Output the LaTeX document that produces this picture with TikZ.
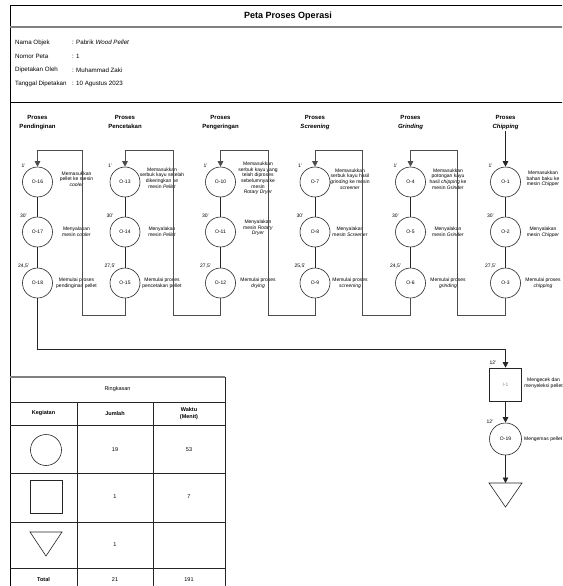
\documentclass[tikz,border=0pt]{standalone}
\usepackage{fontspec}
\setmainfont{Liberation Sans}
\usetikzlibrary{arrows.meta}
\newcommand\fsz[2]{\fontsize{#1}{#2}\selectfont}
\begin{document}
\begin{tikzpicture}[x=1pt,y=-1pt,
  frame/.style={line width=0.8pt,draw=black},
  sepline/.style={line width=1.2pt,draw=black!50},
  head/.style={align=center,anchor=north,font=\fsz{6}{9}\bfseries,inner sep=1pt},
  info/.style={anchor=west,font=\fsz{6.2}{7},inner sep=0pt},
  op/.style={circle,draw=black!85,line width=0.6pt,minimum size=30pt,inner sep=0pt,font=\fsz{5}{6}},
  desc/.style={align=center,font=\fsz{5}{5.6},inner sep=0pt},
  tm/.style={font=\fsz{5}{6},inner sep=0pt},
  flow/.style={draw=black!85,line width=0.7pt},
  arr/.style={flow,-{Triangle[length=5.5pt,width=5.5pt]}},
  looparr/.style={draw=black!70,line width=0.7pt,-{Triangle[length=5.5pt,width=5.5pt]}},
  cell/.style={font=\fsz{5.5}{6.5},align=center,inner sep=0pt},
  cellb/.style={font=\fsz{5.5}{6.5}\bfseries,align=center,inner sep=0pt},
  gridline/.style={draw=black!85,line width=0.7pt},
]
\useasboundingbox (0,0) rectangle (562,586);
\clip (0,0) rectangle (562,586);

% outer frame and separators
\draw[frame] (10,590) -- (10,5) -- (575,5);
\draw[sepline] (10,27) -- (575,27);
\draw[frame] (10,102) -- (575,102);

\node[font=\fsz{9}{10}\bfseries] (title) at (288,16) {Peta Proses Operasi};

% header information
\node[info] (k1) at (15,42.5) {Nama Objek};
\node[info] (v1) at (72,42.5) {: Pabrik \textit{Wood Pellet}};
\node[info] (k2) at (15,56.5) {Nomor Peta};
\node[info] (v2) at (72,56.5) {: 1};
\node[info] (k3) at (15,70) {Dipetakan Oleh};
\node[info] (v3) at (72,70) {: Muhammad Zaki};
\node[info] (k4) at (15,83.5) {Tanggal Dipetakan};
\node[info] (v4) at (72,83.5) {: 10 Agustus 2023};

% process headings
\node[head] (h1) at (37.5,114) {Proses\\Pendinginan};
\node[head] (h2) at (125,114) {Proses\\Pencetakan};
\node[head] (h3) at (220.5,114) {Proses\\Pengeringan};
\node[head] (h4) at (315,114) {Proses\\\textit{Screening}};
\node[head] (h5) at (410.5,114) {Proses\\\textit{Grinding}};
\node[head] (h6) at (505.5,114) {Proses\\\textit{Chipping}};

% column 1: pendinginan
\node[op] (o16) at (37.5,182) {O-16};
\node[op] (o17) at (37.5,232) {O-17};
\node[op] (o18) at (37.5,283) {O-18};
\node[tm] (t16) at (23.5,165.5) {1'};
\node[tm] (t17) at (23.5,215.5) {30'};
\node[tm] (t18) at (23.5,266.5) {24,5'};
\node[desc] (d16) at (76.5,179) {Memasukkan\\pellet ke mesin\\\textit{cooler}};
\node[desc] (d17) at (76.5,232) {Menyalakan\\mesin \textit{cooler}};
\node[desc] (d18) at (76.5,283) {Memulai proses\\pendinginan pellet};

% column 2: pencetakan
\node[op] (o13) at (125,182) {O-13};
\node[op] (o14) at (125,232) {O-14};
\node[op] (o15) at (125,283) {O-15};
\node[tm] (t13) at (110,165.5) {1'};
\node[tm] (t14) at (110,215.5) {30'};
\node[tm] (t15) at (110,266.5) {27,5'};
\node[desc] (d13) at (162,178) {Memasukkan\\serbuk kayu setelah\\dikeringkan ke\\mesin \textit{Pellet}};
\node[desc] (d14) at (162,232) {Menyalakan\\mesin \textit{Pellet}};
\node[desc] (d15) at (162,283) {Memulai proses\\pencetakan pellet};

% column 3: pengeringan
\node[op] (o10) at (220.5,182) {O-10};
\node[op] (o11) at (220.5,232) {O-11};
\node[op] (o12) at (220.5,283) {O-12};
\node[tm] (t10) at (205.5,165.5) {1'};
\node[tm] (t11) at (205.5,215.5) {30'};
\node[tm] (t12) at (205.5,266.5) {27,5'};
\node[desc] (d10) at (258,178.5) {Memasukkan\\serbuk kayu yang\\telah diproses\\sebelumnya ke\\mesin\\\textit{Rotary Dryer}};
\node[desc] (d11) at (258,228) {Menyalakan\\mesin \textit{Rotary}\\\textit{Dryer}};
\node[desc] (d12) at (258,283) {Memulai proses\\\textit{drying}};

% column 4: screening
\node[op] (o7) at (315,182) {O-7};
\node[op] (o8) at (315,232) {O-8};
\node[op] (o9) at (315,283) {O-9};
\node[tm] (t7) at (300,165.5) {1'};
\node[tm] (t8) at (300,215.5) {30'};
\node[tm] (t9) at (300,266.5) {25,5'};
\node[desc] (d7) at (350,179) {Memasukkan\\serbuk kayu hasil\\\textit{grinding} ke mesin\\\textit{screener}};
\node[desc] (d8) at (350,232) {Menyalakan\\mesin \textit{Screener}};
\node[desc] (d9) at (350,283) {Memulai proses\\\textit{screening}};

% column 5: grinding
\node[op] (o4) at (410.5,182) {O-4};
\node[op] (o5) at (410.5,232) {O-5};
\node[op] (o6) at (410.5,283) {O-6};
\node[tm] (t4) at (395.5,165.5) {1'};
\node[tm] (t5) at (395.5,215.5) {30'};
\node[tm] (t6) at (395.5,266.5) {24,5'};
\node[desc] (d4) at (448,179) {Memasukkan\\potongan kayu\\hasil \textit{chipping} ke\\mesin \textit{Grinder}};
\node[desc] (d5) at (448,232) {Menyalakan\\mesin \textit{Grinder}};
\node[desc] (d6) at (448,283) {Memulai proses\\\textit{grinding}};

% column 6: chipping
\node[op] (o1) at (505.5,182) {O-1};
\node[op] (o2) at (505.5,232) {O-2};
\node[op] (o3) at (505.5,283) {O-3};
\node[tm] (t1) at (490.5,165.5) {1'};
\node[tm] (t2) at (490.5,215.5) {30'};
\node[tm] (t3) at (490.5,266.5) {27,5'};
\node[desc] (d1) at (543,179) {Memasukkan\\bahan baku ke\\mesin \textit{Chipper}};
\node[desc] (d2) at (543,232) {Menyalakan\\mesin \textit{Chipper}};
\node[desc] (d3) at (543,283) {Memulai proses\\\textit{chipping}};

% links inside each column
\foreach \a/\b in {o1/o2,o2/o3,o4/o5,o5/o6,o7/o8,o8/o9,o10/o11,o11/o12,o13/o14,o14/o15,o16/o17,o17/o18}
  \draw[flow] (\a) -- (\b);

% links between columns
\coordinate (u5) at (457,150);
\coordinate (u4) at (362.5,150);
\coordinate (u3) at (268,150);
\coordinate (u2) at (173,150);
\coordinate (u1) at (82,150);
\draw[arr] (h6) -- (o1);
\draw[looparr] (o3) -- ++(0,32) -| (u5) -| (o4);
\draw[looparr] (o6) -- ++(0,32) -| (u4) -| (o7);
\draw[looparr] (o9) -- ++(0,32) -| (u3) -| (o10);
\draw[looparr] (o12) -- ++(0,32) -| (u2) -| (o13);
\draw[looparr] (o15) -- ++(0,32) -| (u1) -| (o16);

% inspection, packing and storage
\node[draw=black!85,line width=0.6pt,minimum width=32pt,minimum height=33pt,inner sep=0pt,font=\fsz{5}{6},text=black!45] (i1) at (505.5,384.5) {I-1};
\node[op,minimum size=32pt] (o19) at (505.5,439) {O-19};
\coordinate (s1) at (505.5,483);
\draw[black!85,line width=0.6pt] (489,483) -- (522,483) -- (505.5,507) -- cycle;
\node[tm] (ti1) at (493,363) {12'};
\node[tm] (t19) at (490,422) {12'};
\node[desc] (di1) at (543.5,383.5) {Mengecek dan\\menyeleksi pellet};
\node[desc,anchor=west] (d19) at (524,439) {Mengemas pellet};
\draw[arr] (o18) -- (37.5,349) -| (i1);
\draw[arr] (i1) -- (o19);
\draw[arr] (o19) -- (s1);

% summary table
\draw[draw=black!50,line width=1.2pt] (10,377) -- (225,377);
\draw[gridline] (225,377) -- (225,592);
\foreach \yy in {402,425,473,522,568}
  \draw[gridline] (10,\yy) -- (225,\yy);
\draw[gridline] (77,402) -- (77,592);
\draw[gridline] (153,402) -- (153,592);
\node[cell] (r0) at (117.5,389.5) {Ringkasan};
\node[cellb] (ca) at (43.5,413.5) {Kegiatan};
\node[cellb] (cb) at (115,413.5) {Jumlah};
\node[cellb] (cc) at (189,413.5) {Waktu\\(Menit)};
\node[circle,draw=black!85,line width=0.6pt,minimum size=31pt,inner sep=0pt] (sop) at (46,450) {};
\node[cell] (n1) at (115,450) {19};
\node[cell] (m1) at (189,450) {53};
\node[draw=black!85,line width=0.6pt,minimum width=32pt,minimum height=33pt,inner sep=0pt] (sin) at (46,496.5) {};
\node[cell] (n2) at (115,497) {1};
\node[cell] (m2) at (189,497) {7};
\draw[black!85,line width=0.6pt] (30,532) -- (62,532) -- (46,556) -- cycle;
\node[cell] (n3) at (115,545) {1};
\node[cellb] (ct) at (43.5,580) {Total};
\node[cell] (n4) at (115,580) {21};
\node[cell] (m4) at (189,580) {191};
\end{tikzpicture}
\end{document}
